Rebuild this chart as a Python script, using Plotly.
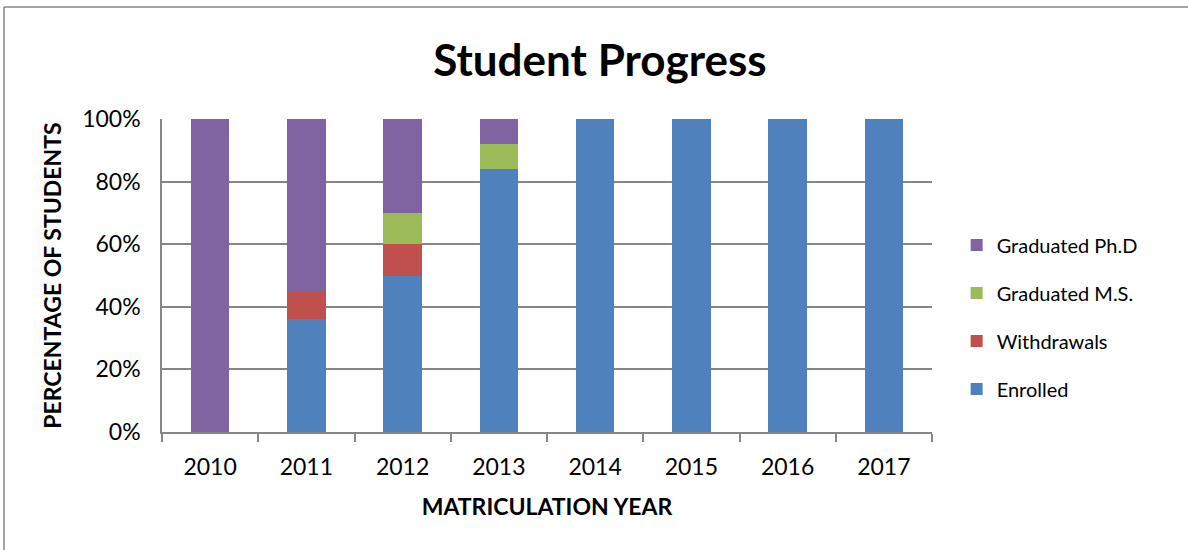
import plotly.graph_objects as go

years = ["2010", "2011", "2012", "2013", "2014", "2015", "2016", "2017"]
enrolled = [0, 36, 50, 84, 100, 100, 100, 100]
withdrawals = [0, 9, 10, 0, 0, 0, 0, 0]
grad_ms = [0, 0, 10, 8, 0, 0, 0, 0]
grad_phd = [100, 55, 30, 8, 0, 0, 0, 0]

series = [
    ("Enrolled", enrolled, "#4F81BD", 4),
    ("Withdrawals", withdrawals, "#C0504D", 3),
    ("Graduated M.S.", grad_ms, "#9BBB59", 2),
    ("Graduated Ph.D", grad_phd, "#8064A2", 1),
]

FONT = "Lato, Carlito, 'Open Sans', sans-serif"

fig = go.Figure()
for name, vals, color, rank in series:
    fig.add_trace(go.Bar(
        x=years, y=vals, name=name, legendgroup=name, legendrank=rank,
        marker=dict(color=color, line=dict(width=0)),
    ))

fig.update_layout(
    barmode="stack",
    bargap=0.6,
    width=1188, height=550,
    margin=dict(l=162, r=256, t=119, b=118),
    paper_bgcolor="white", plot_bgcolor="white",
    font=dict(family=FONT, color="black", size=20),
    title=dict(text="<b>Student Progress</b>", x=0.505, xanchor="center",
               y=0.89, yanchor="middle", font=dict(size=44, family=FONT)),
    showlegend=True,
    legend=dict(x=1.032, xanchor="left", y=0.66, yanchor="top",
                traceorder="grouped", tracegroupgap=19,
                font=dict(size=20, family=FONT), itemwidth=30),
    xaxis=dict(
        type="category", showgrid=False, showline=True, linecolor="#868686",
        linewidth=1.5, ticks="outside", tickson="boundaries", ticklen=8,
        tickcolor="#868686", tickwidth=1.5, tickfont=dict(size=23),
        ticklabelstandoff=14,
        title=dict(text="<b>MATRICULATION YEAR</b>", font=dict(size=23), standoff=20),
    ),
    yaxis=dict(
        range=[0, 100], tickvals=[0, 20, 40, 60, 80, 100],
        ticktext=["0%", "20%", "40%", "60%", "80%", "100%"],
        showgrid=True, gridcolor="#868686", gridwidth=1.5,
        showline=True, linecolor="#868686", linewidth=1.5,
        ticks="", ticklabelstandoff=15,
        tickfont=dict(size=23), zeroline=False,
        title=dict(text="<b>PERCENTAGE OF STUDENTS</b>", font=dict(size=23), standoff=14),
    ),
    shapes=[
        dict(type="line", xref="paper", yref="paper",
             x0=(4 - 162) / 770, x1=(1200 - 162) / 770,
             y0=(432 - 7) / 313, y1=(432 - 7) / 313,
             line=dict(color="#868686", width=1.5)),
        dict(type="line", xref="paper", yref="paper",
             x0=(4 - 162) / 770, x1=(4 - 162) / 770,
             y0=(432 - 7) / 313, y1=(432 - 560) / 313,
             line=dict(color="#868686", width=1.5)),
    ],
)

fig.write_html("out.html", config={"displayModeBar": False},
               post_script="document.body.style.margin='0px';")
